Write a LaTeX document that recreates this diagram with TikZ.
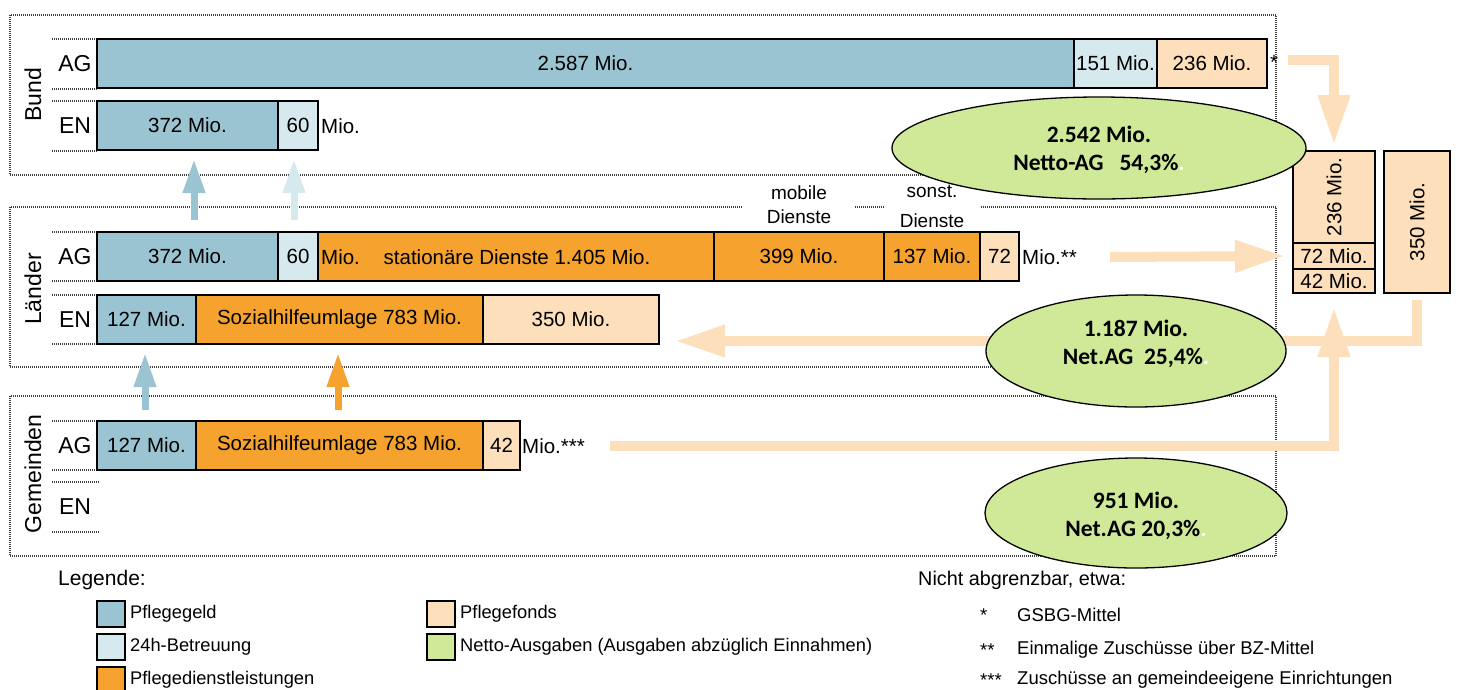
\documentclass[tikz,border=0pt]{standalone}
\usepackage{fontspec}
\usepackage{graphicx}
\setmainfont{Liberation Sans}
\newfontfamily\calib{Carlito}
\usetikzlibrary{arrows.meta,shapes.geometric}
\definecolor{cPG}{RGB}{155,196,210}
\definecolor{cBT}{RGB}{214,233,238}
\definecolor{cPD}{RGB}{245,162,46}
\definecolor{cPF}{RGB}{253,223,187}
\definecolor{cNA}{RGB}{207,233,152}
\newcommand\fz[2]{\fontsize{#1}{#2}\selectfont}
\tikzset{
  frame/.style={draw=black!75, line width=2pt, dash pattern=on 1pt off 1pt},
  seg/.style={draw, line width=1.3pt, inner sep=0pt, outer sep=0pt, anchor=north west, minimum height=49pt, font=\fz{20.5}{24}},
  pg/.style={seg, fill=cPG},
  bt/.style={seg, fill=cBT},
  pd/.style={seg, fill=cPD},
  pf/.style={seg, fill=cPF},
  plain/.style={inner sep=0pt, font=\fz{20.5}{24}},
  rowl/.style={inner sep=0pt, font=\fz{23}{26}},
  grp/.style={inner sep=0pt, font=\fz{23}{26}, rotate=90},
  bigarrow/.style={draw=cPF, line width=10pt, -{Triangle[width=30pt,length=50pt]}},
  smallarrow/.style={line width=7pt, -{Triangle[width=21pt,length=34pt]}},
  ell/.style={ellipse, draw, line width=1.3pt, fill=cNA, inner sep=0pt},
  etext/.style={align=center, font=\calib\bfseries\fz{23.5}{28}, inner sep=0pt},
  sw/.style={draw, line width=1.3pt, anchor=north west, minimum width=28pt, minimum height=26pt, inner sep=0pt, outer sep=0pt},
  legt/.style={anchor=west, inner sep=0pt, font=\fz{18.3}{22}},
  notet/.style={anchor=west, inner sep=0pt, font=\fz{18.5}{22}},
}
\begin{document}
\begin{tikzpicture}[x=1pt,y=-1pt]
\useasboundingbox (0,0) rectangle (1458,689);
% frames
\draw[frame] (10,15) rectangle (1276,175);
\draw[frame] (10,207) rectangle (1276,367);
\draw[frame] (10,396) rectangle (1276,556);
\foreach \y in {39,89,101,151,232,281,295,344,421,470} \draw[frame] (52,\y) -- (97,\y);
\draw[frame] (52,482) -- (99,482);
\draw[frame] (52,532) -- (99,532);
% group labels
\node[grp] (gBund) at (33,95) {Bund};
\node[grp] (gLand) at (33,289) {Länder};
\node[grp] (gGem) at (33,474) {Gemeinden};
% row labels
\node[rowl] (rBA) at (75,64) {AG};
\node[rowl] (rBE) at (75,126) {EN};
\node[rowl] (rLA) at (75,257) {AG};
\node[rowl] (rLE) at (75,320) {EN};
\node[rowl] (rGA) at (75,446) {AG};
\node[rowl] (rGE) at (75,507) {EN};
% column labels covering the frame line
\node[fill=white, align=center, inner sep=0pt, minimum width=112pt, minimum height=44pt, font=\fz{19}{24}] (mob) at (799,205) {mobile\\Dienste};
\node[fill=white, align=center, inner sep=0pt, minimum width=95pt, minimum height=48pt, font=\fz{19}{30}] (son) at (932,206) {sonst.\\Dienste};
\coordinate (a3end) at (675,341);
\coordinate (u1) at (194,220);
\coordinate (u2) at (294,220);
\coordinate (u3) at (145,410);
\coordinate (u4) at (338,410);
% Bund AG
\node[pg, minimum width=977pt] (bA1) at (97,39) {2.587 Mio.};
\node[bt, minimum width=83pt] (bA2) at (1074,39) {151 Mio.};
\node[pf, minimum width=110pt] (bA3) at (1157,39) {236 Mio.};
\node[plain, anchor=west] (star) at (1270,62) {*};
% Bund EN
\node[pg, minimum width=181pt] (bE1) at (97,101) {372 Mio.};
\node[bt, minimum width=40pt] (bE2) at (278,101) {60};
\node[plain, anchor=west] (bEm) at (321,126) {Mio.};
% Länder AG
\node[pg, minimum width=181pt] (lA1) at (97,232) {372 Mio.};
\node[bt, minimum width=40pt] (lA2) at (278,232) {60};
\node[pd, minimum width=396pt] (lA3) at (318,232) {};
\node[plain, anchor=west] (lAm) at (321,257) {Mio.};
\node[plain] (lAst) at (517,257) {stationäre Dienste 1.405 Mio.};
\node[pd, minimum width=170pt] (lA4) at (714,232) {399 Mio.};
\node[pd, minimum width=96pt] (lA5) at (884,232) {137 Mio.};
\node[pf, minimum width=39pt] (lA6) at (980,232) {72};
\node[plain, anchor=west] (lAmm) at (1022,257) {Mio.**};
% Länder EN
\node[pg, minimum width=99pt] (lE1) at (97,295) {127 Mio.};
\node[pd, minimum width=287pt] (lE2) at (196,295) {Sozialhilfeumlage 783 Mio.};
\node[pf, minimum width=176pt] (lE3) at (483,295) {350 Mio.};
% Gemeinden AG
\node[pg, minimum width=99pt] (gA1) at (97,421) {127 Mio.};
\node[pd, minimum width=287pt] (gA2) at (196,421) {Sozialhilfeumlage 783 Mio.};
\node[pf, minimum width=37pt] (gA3) at (483,421) {42};
\node[plain, anchor=west] (gAm) at (522,446) {Mio.***};
% right column
\node[pf, minimum width=82pt, minimum height=92pt] (fA) at (1293,151) {\rotatebox{90}{236 Mio.}};
\node[pf, minimum width=82pt, minimum height=26pt] (f72) at (1293,243) {72 Mio.};
\node[pf, minimum width=82pt, minimum height=24pt] (f42) at (1293,269) {42 Mio.};
\node[pf, minimum width=66pt, minimum height=142pt] (fB) at (1384,151) {\rotatebox{90}{350 Mio.}};
% big connectors
\draw[bigarrow] ([xshift=10pt,yshift=2pt]star.east) -| ([yshift=6pt]fA.north);
\draw[bigarrow] ([xshift=33pt]lAmm.east) -- ([xshift=-8pt]f72.west);
\draw[bigarrow] ([yshift=-7pt]fB.south) |- (a3end);
\draw[bigarrow] ([xshift=25pt]gAm.east) -| ([yshift=-14pt]f42.south);
% small up arrows
\draw[smallarrow, draw=cPG] (u1) -- ([yshift=-9pt]u1 |- bE1.south);
\draw[smallarrow, draw=cBT] (u2) -- ([yshift=-9pt]u2 |- bE2.south);
\draw[smallarrow, draw=cPG] (u3) -- ([yshift=-9pt]u3 |- lE1.south);
\draw[smallarrow, draw=cPD] (u4) -- ([yshift=-9pt]u4 |- lE2.south);
% ellipses
\node[ell, minimum width=414pt, minimum height=102pt] (e1) at (1099,148) {};
\node[etext] (e1t) at ([yshift=-2pt]e1.center) {2.542 Mio.\\Netto-AG\ \ \ 54,3\%{\color{white}.}};
\node[ell, minimum width=300pt, minimum height=112pt] (e2) at (1136,351) {};
\node[etext] (e2t) at ([yshift=7pt]e2.center) {1.187 Mio.\\Net.AG\ \ 25,4\%{\color{white}.}};
\node[ell, minimum width=302pt, minimum height=110pt] (e3) at (1136,513) {};
\node[etext] (e3t) at ([yshift=-3pt]e3.center) {951 Mio.\\Net.AG 20,3\%{\color{white}.}};
% legend
\node[legt, font=\fz{21}{24}] (leg) at (58,580) {Legende:};
\node[sw, fill=cPG] (s1) at (97,601) {};
\node[legt] (t1) at ([xshift=5pt]s1.east) {Pflegegeld};
\node[sw, fill=cBT] (s2) at (97,634) {};
\node[legt] (t2) at ([xshift=5pt]s2.east) {24h-Betreuung};
\node[sw, fill=cPD] (s3) at (97,667) {};
\node[legt] (t3) at ([xshift=5pt]s3.east) {Pflegedienstleistungen};
\node[sw, fill=cPF] (s4) at (427,601) {};
\node[legt] (t4) at ([xshift=5pt]s4.east) {Pflegefonds};
\node[sw, fill=cNA] (s5) at (427,634) {};
\node[legt] (t5) at ([xshift=5pt]s5.east) {Netto-Ausgaben (Ausgaben abzüglich Einnahmen)};
\node[legt, font=\fz{19.8}{22}] (nab) at (918,580) {Nicht abgrenzbar, etwa:};
\node[notet] (n1s) at (980,615) {*};
\node[notet] (n1) at (1017,615) {GSBG-Mittel};
\node[notet] (n2s) at (980,650) {**};
\node[notet] (n2) at (1017,650) {Einmalige Zuschüsse über BZ-Mittel};
\node[notet] (n3s) at (980,680) {***};
\node[notet] (n3) at (1017,680) {Zuschüsse an gemeindeeigene Einrichtungen};
\end{tikzpicture}
\end{document}
